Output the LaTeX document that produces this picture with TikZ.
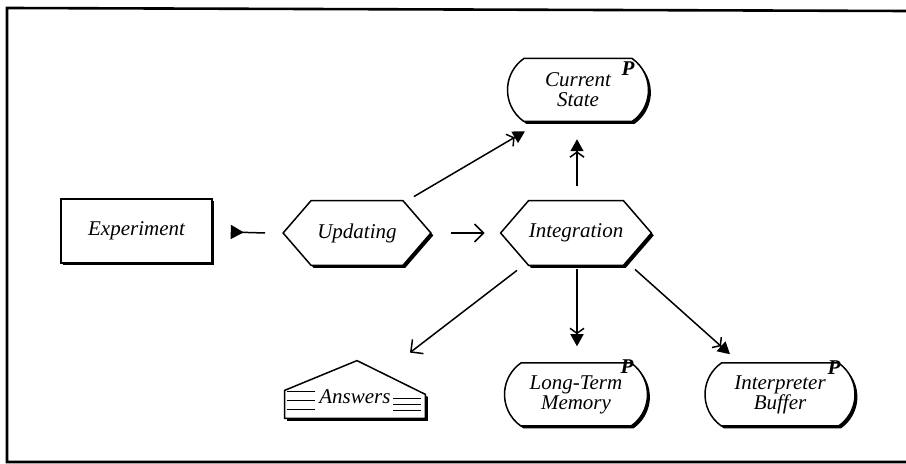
\documentclass[tikz,border=0pt]{standalone}
\usepackage{fontspec}
\setmainfont{Liberation Serif}
\usetikzlibrary{arrows.meta,shapes.misc,shadows,calc}
\pgfdeclarelayer{bg}
\pgfsetlayers{bg,main}

\begin{document}
\begin{tikzpicture}[x=0.5pt,y=-0.5pt,
  lbl/.style={font=\itshape\fontsize{10.5}{10}\selectfont,align=center},
  pmark/.style={font=\bfseries\itshape\fontsize{10.5}{10}\selectfont,inner sep=0pt},
  heavy/.style={drop shadow={shadow xshift=1.2pt,shadow yshift=-1.2pt,opacity=1,fill=black}},
  outline/.style={draw,line width=0.75pt,fill=white},
  procbox/.style={rectangle,outline,heavy,minimum width=75.5pt,minimum height=32pt,lbl},
  store/.style={rounded rectangle,rounded rectangle arc length=110,outline,heavy,
    minimum height=31.5pt,inner sep=0pt,lbl},
  hexholder/.style={rectangle,minimum height=32pt,inner sep=0pt,lbl},
  link/.style={line width=0.75pt},
  solidtip/.style={link,-{Straight Barb[length=2.5pt,width=7pt]Triangle[length=6pt,width=6.5pt]}},
  opentip/.style={link,-{Straight Barb[length=4.5pt,width=9pt]}},
]
\useasboundingbox (0,0) rectangle (906,464);

% frame
\draw[line width=1.3pt] (906,11) -- (7,8) -- (7,462) -- (906,462);

% nodes
\node[procbox] (exp) at (136.5,231) {Experiment};
\node[hexholder,minimum width=73.5pt] (upd) at (357,233) {Updating};
\node[hexholder,minimum width=75pt] (intg) at (576,233) {Integration};
\node[store,minimum width=70.5pt] (cs) at (578,90) {Current\\State};
\node[store,minimum width=71.5pt] (ltm) at (576,394.5) {Long-Term\\Memory};
\node[store,minimum width=75pt] (ib) at (780,394.5) {Interpreter\\Buffer};
\node[rectangle,minimum width=70pt,minimum height=21pt,inner sep=0pt,lbl] (ans) at (355,397) {Answers};

\node[pmark] (csp) at (628,69) {P};
\node[pmark] (ltmp) at (627,367) {P};
\node[pmark] (ibp) at (834,368) {P};

% hexagons and the answer sheet, drawn under their labels
\begin{pgfonlayer}{bg}
  \foreach \n in {upd,intg} {
    \fill[transform canvas={xshift=1.2pt,yshift=-1.2pt}]
      (\n.west) -- ([xshift=14pt]\n.north west) -- ([xshift=-14pt]\n.north east)
      -- (\n.east) -- ([xshift=-14pt]\n.south east) -- ([xshift=14pt]\n.south west) -- cycle;
    \draw[outline]
      (\n.west) -- ([xshift=14pt]\n.north west) -- ([xshift=-14pt]\n.north east)
      -- (\n.east) -- ([xshift=-14pt]\n.south east) -- ([xshift=14pt]\n.south west) -- cycle;
  }
  \fill[transform canvas={xshift=1.2pt,yshift=-1.2pt}]
    (ans.south west) -- ($(ans.south west)+(0,-28)$) -- ($(ans.north)+(2,-15)$)
    -- ($(ans.south east)+(0,-24)$) -- (ans.south east) -- cycle;
  \draw[outline]
    (ans.south west) -- ($(ans.south west)+(0,-28)$) -- ($(ans.north)+(2,-15)$)
    -- ($(ans.south east)+(0,-24)$) -- (ans.south east) -- cycle;
  \foreach \dy in {-5,4,13} \draw[line width=0.5pt] ($(ans.west)+(2,\dy)$) -- ++(28,0);
  \foreach \dy in {2,8,14} \draw[line width=0.5pt] ($(ans.east)+(-32,\dy)$) -- ++(28,0);
\end{pgfonlayer}

% connectors
\draw[link,{Triangle[reversed,length=6.5pt,width=7pt]}-]
  ($(exp.east)+(18,1)$) -- ($(upd.west)+(-18,0)$);
\draw[opentip] ($(upd.east)+(20,0)$) -- ($(intg.west)+(-16,0)$);
\draw[solidtip] ($(upd.north east)+(-17,-4)$) -- ($(cs.south)+(-53,9)$);
\draw[solidtip] ($(intg.north)+(1,-15)$) -- ($(cs.south)+(-1,17)$);
\draw[opentip] ($(intg.south)+(-59,5)$) -- ($(ans.north)+(55,-23)$);
\draw[solidtip] ($(intg.south)+(1,4)$) -- ($(ltm.north)+(1,-16)$);
\draw[solidtip] ($(intg.south)+(59,4)$) -- ($(ib.north)+(-50,-8)$);
\end{tikzpicture}
\end{document}
